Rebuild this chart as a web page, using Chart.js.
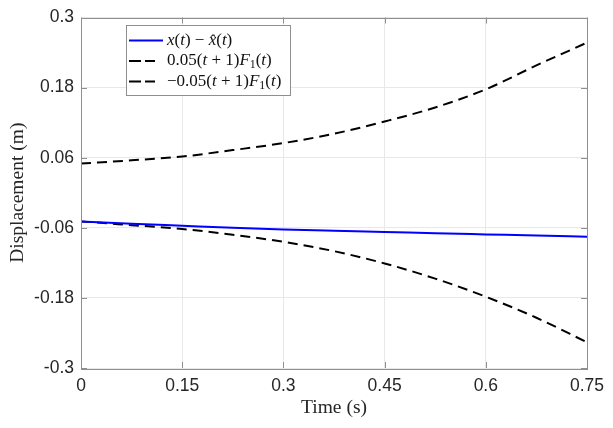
<!DOCTYPE html>
<html lang="en">
<head>
  <meta charset="UTF-8" />
  <title>Displacement error bound</title>
  <script src="https://cdn.jsdelivr.net/npm/chart.js"></script>
  <style>
    html, body { margin: 0; padding: 0; background: #fff; }
    #wrap { width: 613px; height: 428px; }
  </style>
</head>
<body>
<div id="wrap"><canvas id="boundChart" width="613" height="428"></canvas></div>

<script>
// values
const timeSteps   = [0, 0.075, 0.15, 0.225, 0.3, 0.375, 0.45, 0.525, 0.6, 0.675, 0.75];
const errorValues = [-0.049, -0.053, -0.0565, -0.060, -0.0628, -0.065, -0.067, -0.0695, -0.0713, -0.073, -0.0752];
const upperBound  = [0.050, 0.0555, 0.062, 0.073, 0.085, 0.101, 0.122, 0.146, 0.177, 0.218, 0.257];
const lowerBound  = [-0.049, -0.0555, -0.062, -0.072, -0.084, -0.100, -0.121, -0.147, -0.178, -0.214, -0.256];

const xTicks = [0, 0.15, 0.3, 0.45, 0.6, 0.75];
const xTickLabels = ['0', '0.15', '0.3', '0.45', '0.6', '0.75'];
const yTicks = [-0.3, -0.18, -0.06, 0.06, 0.18, 0.3];
const yTickLabels = ['-0.3', '-0.18', '-0.06', '0.06', '0.18', '0.3'];

// legend entries as rich text pieces: [text, style]  (i = italic, s = subscript)
const legendErr = [['x', 'i'], ['(', ''], ['t', 'i'], [')', ''], [' \u2212 ', ''], ['x\u0302', 'i'], ['(', ''], ['t', 'i'], [')', '']];
const legendUp  = [['0.05(', ''], ['t', 'i'], [' + 1)', ''], ['F', 'i'], ['1', 's'], ['(', ''], ['t', 'i'], [')', '']];
const legendLow = [['\u22120.05(', ''], ['t', 'i'], [' + 1)', ''], ['F', 'i'], ['1', 's'], ['(', ''], ['t', 'i'], [')', '']];

const toPoints = vals => timeSteps.map((t, i) => ({ x: t, y: vals[i] }));

const AXIS_COLOR = '#8f8f8f';
const TEXT_COLOR = '#262626';

// MATLAB style box with inward ticks
const boxPlugin = {
  id: 'boxTicks',
  afterDatasetsDraw(chart) {
    const { ctx, chartArea: a, scales } = chart;
    const len = 6;
    ctx.save();
    ctx.strokeStyle = AXIS_COLOR;
    ctx.lineWidth = 1;
    ctx.beginPath();
    xTicks.forEach(v => {
      const px = Math.round(scales.x.getPixelForValue(v)) + 0.5;
      ctx.moveTo(px, a.bottom); ctx.lineTo(px, a.bottom - len);
      ctx.moveTo(px, a.top); ctx.lineTo(px, a.top + len);
    });
    yTicks.forEach(v => {
      const py = Math.round(scales.y.getPixelForValue(v)) + 0.5;
      ctx.moveTo(a.left, py); ctx.lineTo(a.left + len, py);
      ctx.moveTo(a.right, py); ctx.lineTo(a.right - len, py);
    });
    ctx.stroke();
    ctx.strokeRect(Math.round(a.left) + 0.5, Math.round(a.top) + 0.5,
      Math.round(a.right - a.left), Math.round(a.bottom - a.top));
    ctx.restore();
  }
};

// legend drawn by hand so the math labels can mix italic and subscripts
const mathLegend = {
  id: 'mathLegend',
  afterDraw(chart) {
    const { ctx } = chart;
    const box = { x: 126, y: 25, w: 164, h: 70 };
    const size = 17;
    ctx.save();
    ctx.fillStyle = '#fff';
    ctx.fillRect(box.x, box.y, box.w, box.h);
    ctx.strokeStyle = AXIS_COLOR;
    ctx.lineWidth = 1;
    ctx.strokeRect(box.x + 0.5, box.y + 0.5, box.w, box.h);

    chart.data.datasets.forEach((ds, i) => {
      const rowY = box.y + 15.5 + i * 20.5;
      const dashed = !!ds.borderDash;
      ctx.beginPath();
      ctx.strokeStyle = ds.borderColor;
      ctx.lineWidth = ds.borderWidth;
      ctx.setLineDash(dashed ? [12, 4] : []);
      ctx.moveTo(box.x + 3, rowY);
      ctx.lineTo(box.x + (dashed ? 29 : 37), rowY);
      ctx.stroke();
      ctx.setLineDash([]);

      let x = box.x + 41;
      ctx.fillStyle = '#111';
      ctx.textBaseline = 'middle';
      ds.mathLabel.forEach(([txt, st]) => {
        let y = rowY;
        if (st === 'i') ctx.font = `italic ${size}px "Liberation Serif", "Times New Roman", serif`;
        else if (st === 's') { ctx.font = `${size * 0.7}px "Liberation Serif", serif`; y = rowY + 4; }
        else ctx.font = `${size}px "Liberation Serif", "Times New Roman", serif`;
        ctx.fillText(txt, x, y);
        x += ctx.measureText(txt).width;
      });
    });
    ctx.restore();
  }
};

new Chart(document.getElementById('boundChart').getContext('2d'), {
  type: 'line',
  data: {
    datasets: [{
      label: 'x(t) - xhat(t)',
      mathLabel: legendErr,
      data: toPoints(errorValues),
      borderColor: '#0000ff',
      borderWidth: 2,
      pointRadius: 0,
      cubicInterpolationMode: 'monotone'
    }, {
      label: '0.05(t+1)F1(t)',
      mathLabel: legendUp,
      data: toPoints(upperBound),
      borderColor: '#000000',
      borderWidth: 2,
      borderDash: [10, 6],
      pointRadius: 0,
      cubicInterpolationMode: 'monotone'
    }, {
      label: '-0.05(t+1)F1(t)',
      mathLabel: legendLow,
      data: toPoints(lowerBound),
      borderColor: '#000000',
      borderWidth: 2,
      borderDash: [10, 6],
      pointRadius: 0,
      cubicInterpolationMode: 'monotone'
    }]
  },
  options: {
    responsive: false,
    animation: false,
    layout: { padding: { top: 16, right: 26, left: 0, bottom: 0 } },
    plugins: { legend: { display: false }, tooltip: { enabled: false } },
    scales: {
      x: {
        type: 'linear',
        min: 0,
        max: 0.75,
        afterFit: s => { s.height = 60; },
        afterBuildTicks: s => { s.ticks = xTicks.map(v => ({ value: v })); },
        grid: { color: '#e8e8e8', drawTicks: false },
        border: { display: false },
        ticks: {
          padding: 8,
          color: TEXT_COLOR,
          font: { family: '"Liberation Sans", Arial, sans-serif', size: 17.5, lineHeight: 1.2 },
          maxRotation: 0,
          callback: (v, i) => xTickLabels[i]
        },
        title: {
          display: true,
          text: 'Time (s)',
          color: TEXT_COLOR,
          padding: { top: 0, bottom: 8 },
          font: { family: '"Liberation Serif", "Times New Roman", serif', size: 19.5, lineHeight: 1.2 }
        }
      },
      y: {
        min: -0.3,
        max: 0.3,
        afterFit: s => { s.width = 81; },
        afterBuildTicks: s => { s.ticks = yTicks.map(v => ({ value: v })); },
        grid: { color: '#e8e8e8', drawTicks: false },
        border: { display: false },
        ticks: {
          padding: 7,
          color: TEXT_COLOR,
          font: { family: '"Liberation Sans", Arial, sans-serif', size: 17.5, lineHeight: 1.2 },
          callback: (v, i) => yTickLabels[i]
        },
        title: {
          display: true,
          text: 'Displacement (m)',
          color: TEXT_COLOR,
          padding: { top: 6, bottom: 0 },
          font: { family: '"Liberation Serif", "Times New Roman", serif', size: 19.5, lineHeight: 1.2 }
        }
      }
    }
  },
  plugins: [boxPlugin, mathLegend]
});
</script>
</body>
</html>
